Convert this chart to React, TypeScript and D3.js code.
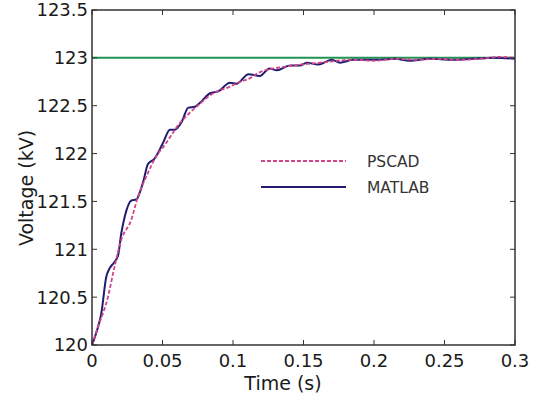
import { useEffect, useRef } from 'react';
import * as d3 from 'd3';

// MATLAB simulation (solid)
const matlabTime = [0, 0.0035, 0.0066, 0.0101, 0.0125, 0.0155, 0.0184, 0.0208, 0.0232, 0.0279, 0.0314, 0.0362, 0.0397, 0.0445, 0.048, 0.0506, 0.0553, 0.0589, 0.0636, 0.0683, 0.073, 0.0766, 0.0837, 0.0896, 0.0979, 0.1026, 0.111, 0.119, 0.126, 0.131, 0.1404, 0.1475, 0.1523, 0.1605, 0.17, 0.1759, 0.1853, 0.1948, 0.204, 0.215, 0.225, 0.24, 0.255, 0.27, 0.285, 0.3];
const matlabVolt = [120.0, 120.15, 120.33, 120.71, 120.8, 120.86, 120.93, 121.17, 121.34, 121.51, 121.52, 121.7, 121.89, 121.95, 122.04, 122.12, 122.25, 122.25, 122.33, 122.48, 122.49, 122.53, 122.63, 122.65, 122.74, 122.73, 122.83, 122.81, 122.89, 122.87, 122.92, 122.92, 122.95, 122.93, 122.98, 122.95, 122.98, 122.98, 122.98, 122.99, 122.97, 122.99, 122.98, 122.99, 123.0, 122.99];

// PSCAD simulation (dashed)
const pscadTime = [0, 0.0043, 0.0113, 0.016, 0.0208, 0.0279, 0.0326, 0.0385, 0.0468, 0.0506, 0.0624, 0.0742, 0.086, 0.0979, 0.105, 0.111, 0.119, 0.138, 0.162, 0.185, 0.2, 0.215, 0.23, 0.245, 0.26, 0.275, 0.289, 0.3];
const pscadVolt = [120.0, 120.19, 120.5, 120.82, 121.1, 121.31, 121.55, 121.76, 122.0, 122.07, 122.32, 122.49, 122.63, 122.7, 122.75, 122.78, 122.85, 122.91, 122.95, 122.98, 122.97, 122.99, 122.98, 122.99, 122.98, 122.99, 123.01, 123.0];

const reference = 123;
const xTicks = [0, 0.05, 0.1, 0.15, 0.2, 0.25, 0.3];
const yTicks = [120, 120.5, 121, 121.5, 122, 122.5, 123, 123.5];

const W = 544;
const H = 394;
const margin = { top: 10, right: 29, bottom: 49, left: 92 };
const FONT = '"DejaVu Sans", sans-serif';

export default function App() {
    const svgRef = useRef<SVGSVGElement>(null);

    useEffect(() => {
        document.body.style.margin = '0';
        if (!svgRef.current) return;
        const svg = d3.select(svgRef.current);
        svg.selectAll('*').remove();

        const innerW = W - margin.left - margin.right;
        const innerH = H - margin.top - margin.bottom;

        const x = d3.scaleLinear().domain([0, 0.3]).range([0, innerW]);
        const y = d3.scaleLinear().domain([120, 123.5]).range([innerH, 0]);

        const g = svg.append('g').attr('transform', `translate(${margin.left},${margin.top})`);

        // Reference level
        g.append('line')
            .attr('x1', x(0)).attr('x2', x(0.3))
            .attr('y1', y(reference)).attr('y2', y(reference))
            .attr('stroke', '#1f9453')
            .attr('stroke-width', 2);

        const line = d3.line<[number, number]>()
            .x(d => x(d[0]))
            .y(d => y(d[1]))
            .curve(d3.curveMonotoneX);

        g.append('path')
            .datum(matlabTime.map((t, i) => [t, matlabVolt[i]] as [number, number]))
            .attr('d', line)
            .attr('fill', 'none')
            .attr('stroke', '#211c6f')
            .attr('stroke-width', 2);

        g.append('path')
            .datum(pscadTime.map((t, i) => [t, pscadVolt[i]] as [number, number]))
            .attr('d', line)
            .attr('fill', 'none')
            .attr('stroke', '#d2448a')
            .attr('stroke-width', 1.8)
            .attr('stroke-dasharray', '4,2');

        // Frame with inward ticks
        const axisColor = '#333';
        g.append('rect')
            .attr('width', innerW).attr('height', innerH)
            .attr('fill', 'none').attr('stroke', axisColor).attr('stroke-width', 1.5);

        const tickLen = 5;
        xTicks.forEach(t => {
            g.append('line').attr('x1', x(t)).attr('x2', x(t)).attr('y1', innerH).attr('y2', innerH - tickLen)
                .attr('stroke', axisColor);
            g.append('line').attr('x1', x(t)).attr('x2', x(t)).attr('y1', 0).attr('y2', tickLen)
                .attr('stroke', axisColor);
        });
        yTicks.forEach(v => {
            g.append('line').attr('x1', 0).attr('x2', tickLen).attr('y1', y(v)).attr('y2', y(v))
                .attr('stroke', axisColor);
            g.append('line').attr('x1', innerW).attr('x2', innerW - tickLen).attr('y1', y(v)).attr('y2', y(v))
                .attr('stroke', axisColor);
        });

        // Tick labels
        g.selectAll('.xt')
            .data(xTicks)
            .enter()
            .append('text')
            .attr('x', d => x(d))
            .attr('y', innerH + 22)
            .attr('text-anchor', 'middle')
            .attr('font-family', FONT)
            .attr('font-size', '18px')
            .attr('fill', '#1a1a1a')
            .text(d => String(d));

        g.selectAll('.yt')
            .data(yTicks)
            .enter()
            .append('text')
            .attr('x', -4)
            .attr('y', d => y(d))
            .attr('dy', '0.36em')
            .attr('text-anchor', 'end')
            .attr('font-family', FONT)
            .attr('font-size', '18px')
            .attr('fill', '#1a1a1a')
            .text(d => String(d));

        // Axis titles
        svg.append('text')
            .attr('x', 283)
            .attr('y', 390)
            .attr('text-anchor', 'middle')
            .attr('font-family', FONT)
            .attr('font-size', '19px')
            .attr('fill', '#1a1a1a')
            .text('Time (s)');

        svg.append('text')
            .attr('transform', 'translate(33,188) rotate(-90)')
            .attr('text-anchor', 'middle')
            .attr('font-family', FONT)
            .attr('font-size', '19px')
            .attr('fill', '#1a1a1a')
            .text('Voltage (kV)');

        // Legend
        const legend = [
            { label: 'PSCAD', color: '#d2448a', dash: '4,2', width: 1.8, ly: 161 },
            { label: 'MATLAB', color: '#211c6f', dash: null, width: 2, ly: 187 },
        ];
        legend.forEach(d => {
            svg.append('line')
                .attr('x1', 261).attr('x2', 346)
                .attr('y1', d.ly).attr('y2', d.ly)
                .attr('stroke', d.color)
                .attr('stroke-width', d.width)
                .attr('stroke-dasharray', d.dash);
            svg.append('text')
                .attr('x', 367)
                .attr('y', d.ly)
                .attr('dy', '0.36em')
                .attr('font-family', FONT)
                .attr('font-size', '15.5px')
                .attr('fill', '#333')
                .text(d.label);
        });
    }, []);

    return <svg ref={svgRef} width={W} height={H} style={{ display: 'block' }} />;
}
